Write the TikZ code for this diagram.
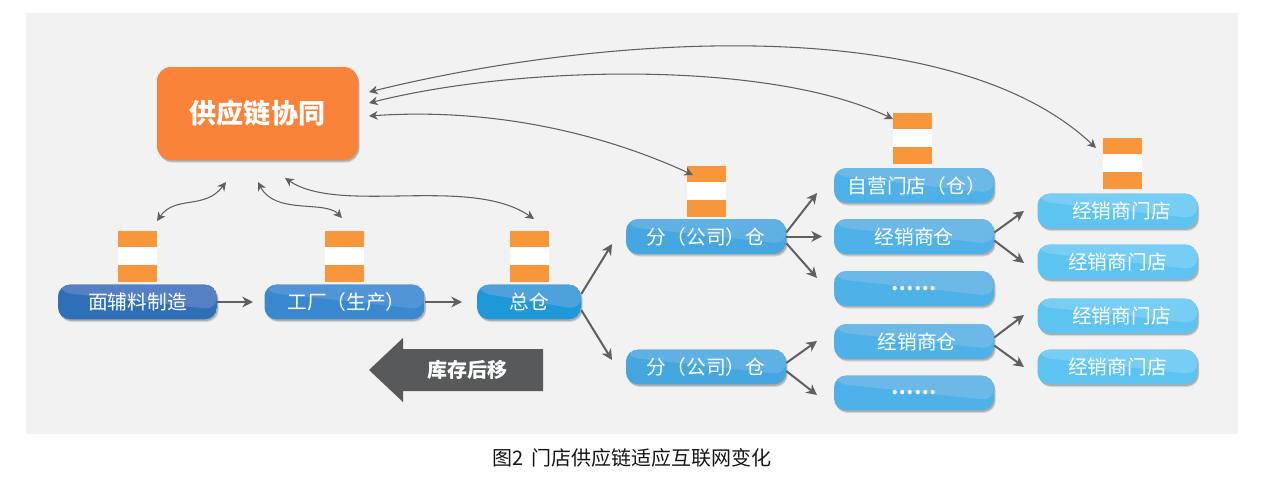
\documentclass[tikz,border=0pt]{standalone}
\usepackage{fontspec}
\setmainfont{Noto Sans CJK SC}
\usetikzlibrary{arrows.meta,calc,shadows}
\definecolor{pageg}{HTML}{F2F2F2}
\definecolor{flagc}{HTML}{F7963B}
\definecolor{leadc}{HTML}{F98339}
\definecolor{linec}{HTML}{606062}
\definecolor{darkarrow}{HTML}{58595B}
\definecolor{capc}{HTML}{151515}
\definecolor{aLow}{HTML}{2F6FB8}\definecolor{aTop}{HTML}{5580C4}
\definecolor{bLow}{HTML}{3A88CF}\definecolor{bTop}{HTML}{5195D6}
\definecolor{cLow}{HTML}{1F98DA}\definecolor{cTop}{HTML}{4EA2DC}
\definecolor{dLow}{HTML}{45A6E0}\definecolor{dTop}{HTML}{5FB0E3}
\definecolor{eLow}{HTML}{4EB2E8}\definecolor{eTop}{HTML}{6CB9E8}
\definecolor{fLow}{HTML}{5DC3F0}\definecolor{fTop}{HTML}{78CDF5}
\newcommand{\glossfill}[2]{%
  \fill[#1] (path picture bounding box.south west) rectangle (path picture bounding box.north east);
  \fill[#2] (path picture bounding box.north west) -- (path picture bounding box.north east)
    -- ($(path picture bounding box.north east)!0.72!(path picture bounding box.south east)$)
    -- ($(path picture bounding box.north west)!0.22!(path picture bounding box.south west)$) -- cycle;}
\tikzset{
  x=0.75pt,y=-0.75pt,
  softshadow/.style={
    drop shadow={shadow xshift=1.2pt,shadow yshift=-2pt,opacity=0.18,fill=black!70},
    drop shadow={shadow xshift=0.8pt,shadow yshift=-1.2pt,opacity=0.28,fill=black!70}},
  pill/.style={rounded corners=9pt,inner sep=0pt,text=white,font=\fontsize{14.8pt}{16pt}\selectfont,minimum width=120pt,minimum height=26pt,softshadow},
  tone/.style n args={2}{path picture={\glossfill{#1}{#2}}},
  lvA/.style={pill,tone={aLow}{aTop}},
  lvB/.style={pill,tone={bLow}{bTop}},
  lvC/.style={pill,tone={cLow}{cTop}},
  lvD/.style={pill,tone={dLow}{dTop}},
  lvE/.style={pill,tone={eLow}{eTop}},
  lvF/.style={pill,tone={fLow}{fTop}},
  flag/.style={inner sep=0pt,minimum width=29.25pt,minimum height=38.25pt,fill=flagc,
    path picture={\fill[white] ($(path picture bounding box.north west)!0.31!(path picture bounding box.south west)$) rectangle ($(path picture bounding box.north east)!0.66!(path picture bounding box.south east)$);}},
  flow/.style={draw=linec,line width=1.5pt,-{Stealth[length=8pt,width=8pt,inset=2.5pt]}},
  both/.style={draw=linec,line width=0.8pt,{Stealth[length=6.5pt,width=6.5pt,inset=2pt]}-{Stealth[length=6.5pt,width=6.5pt,inset=2pt]}},
}
\begin{document}
\begin{tikzpicture}
\useasboundingbox (0,0) rectangle (1277,489);
\fill[white] (0,0) rectangle (1277,489);
\fill[pageg] (26,13) rectangle (1238,434);

% lead box
\node[rounded corners=10.5pt,inner sep=0pt,fill=leadc,text=white,minimum width=150.75pt,minimum height=69.75pt,softshadow,font=\fontsize{20.3pt}{22pt}\selectfont\bfseries] (lead) at (257.5,113.5) {供应链协同};

% first row
\node[lvA,minimum width=119.25pt] (mat) at (137.5,302) {面辅料制造};
\node[lvB] (fac) at (344.5,302) {\hspace*{3pt}工厂（生产）};
\node[lvC,minimum width=78pt] (hub) at (529,302) {总仓};

% branch warehouses
\node[lvD] (bA) at (706,236.5) {分（公司）仓};
\node[lvD] (bB) at (706,367) {分（公司）仓};

% third column
\node[lvE] (own) at (914,185.5) {\hspace*{4pt}自营门店（仓）};
\node[lvE] (dA) at (914,236.5) {经销商仓};
\node[lvE] (mA) at (914,288.5) {\bfseries ……};
\node[lvE] (dB) at (914,341.5) {\hspace*{4.5pt}经销商仓};
\node[lvE] (mB) at (914,393) {\bfseries ……};

% fourth column
\node[lvF] (sA) at (1117.5,211) {\hspace*{6pt}经销商门店};
\node[lvF] (sB) at (1117.5,262) {经销商门店};
\node[lvF] (sC) at (1117.5,316) {\hspace*{6pt}经销商门店};
\node[lvF] (sD) at (1117.5,367) {经销商门店};

% flags
\node[flag] (fA) at (137.5,256.5) {};
\node[flag] (fB) at (344.5,256.5) {};
\node[flag] (fC) at (529.5,256.5) {};
\node[flag] (fD) at (706.5,191.5) {};
\node[flag] (fE) at (912.5,138.5) {};
\node[flag] (fF) at (1122.5,163.5) {};

% backward arrow
\fill[darkarrow] (369,370) -- (403,338) -- (403,349) -- (543,349) -- (543,391) -- (403,391) -- (403,402) -- cycle;
\node[inner sep=0pt,text=white,font=\fontsize{15pt}{17pt}\selectfont\bfseries] (back) at (467,370) {库存后移};

% caption
\node[inner sep=0pt,text=capc,font=\fontsize{15pt}{17pt}\selectfont] (cap) at (632,458) {图2\hspace{0.35em}门店供应链适应互联网变化};

% free ends
\coordinate (tA) at (226,182);
\coordinate (tB) at (258,182);
\coordinate (tC) at (285,178);
\coordinate (eA) at (157,221);
\coordinate (eB) at (342,218);
\coordinate (eC) at (534,219);
\coordinate (rA) at (369,92);
\coordinate (rB) at (369,103);
\coordinate (rC) at (369,116);
\coordinate (eD) at (693,175);
\coordinate (eE) at (893,119);
\coordinate (eF) at (1096,148);
\coordinate (pA) at (253,302);
\coordinate (pB) at (462,302);
\coordinate (qA) at (612,244);
\coordinate (qB) at (612,360);
\coordinate (uA) at (817,193);
\coordinate (uB) at (822,236.5);
\coordinate (uC) at (817,278);
\coordinate (uD) at (817,341);
\coordinate (uE) at (817,395);
\coordinate (vA) at (1024,211);
\coordinate (vB) at (1024,263);
\coordinate (vC) at (1024,315);
\coordinate (vD) at (1024,367);

% straight flows
\draw[flow] (mat.east) -- (pA);
\draw[flow] (fac.east) -- (pB);
\draw[flow] ([yshift=6pt]hub.east) -- (qA);
\draw[flow] ([yshift=-6pt]hub.east) -- (qB);
\draw[flow] ([yshift=3pt]bA.east) -- (uA);
\draw[flow] (bA.east) -- (uB);
\draw[flow] ([yshift=-5pt]bA.east) -- (uC);
\draw[flow] ([yshift=3pt]bB.east) -- (uD);
\draw[flow] ([yshift=-3pt]bB.east) -- (uE);
\draw[flow] ([yshift=3pt]dA.east) -- (vA);
\draw[flow] ([yshift=-3pt]dA.east) -- (vB);
\draw[flow] ([yshift=3pt]dB.east) -- (vC);
\draw[flow] ([yshift=-3pt]dB.east) -- (vD);

% curved links
\draw[both] (eA) .. controls (175,195) and (205,210) .. (tA);
\draw[both] (eB) .. controls (325,200) and (275,215) .. (tB);
\draw[both] (eC) .. controls (470,175) and (340,215) .. (tC);
\draw[both] (rA) .. controls (600,35) and (950,10) .. (eF);
\draw[both] (rB) .. controls (520,65) and (770,60) .. (eE);
\draw[both] (rC) .. controls (485,108) and (595,130) .. (eD);
\end{tikzpicture}
\end{document}
